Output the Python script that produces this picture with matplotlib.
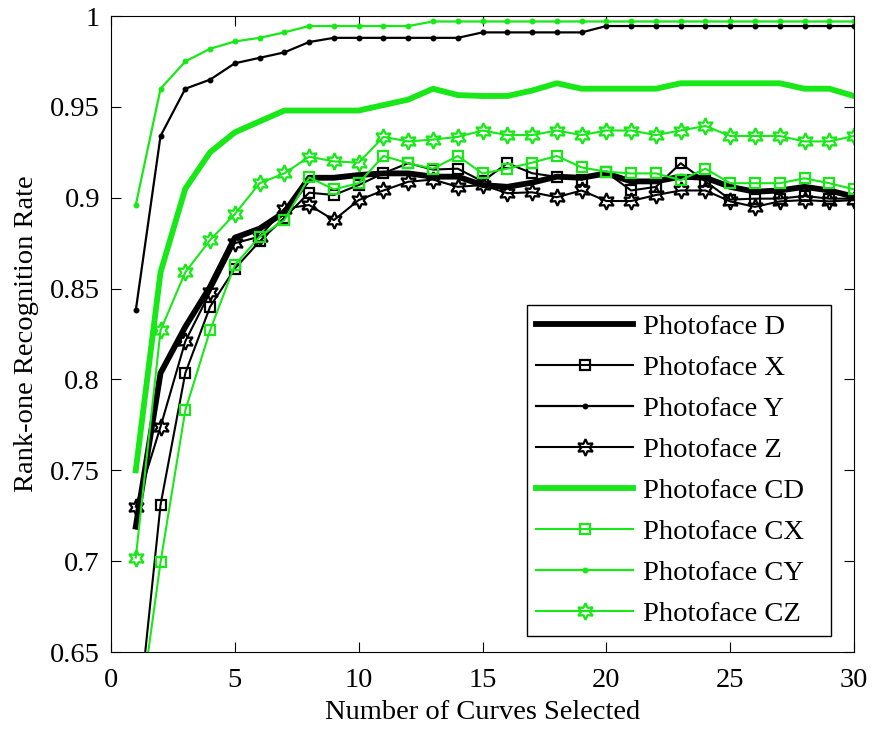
import numpy as np
import matplotlib
matplotlib.use('Agg')
from matplotlib import pyplot as plt

# recognition rates, curves 1..30
curves = np.arange(1, 31)

face_d = [0.719, 0.8035, 0.829, 0.851, 0.878, 0.883, 0.892, 0.911, 0.911, 0.9125,
          0.9134, 0.9134, 0.9116, 0.9116, 0.907, 0.906, 0.9083, 0.9116, 0.911, 0.9134,
          0.909, 0.909, 0.9116, 0.911, 0.906, 0.9033, 0.904, 0.906, 0.904, 0.9006]
face_x = [0.60, 0.731, 0.8035, 0.840, 0.861, 0.876, 0.889, 0.9028, 0.9015, 0.907,
          0.9135, 0.919, 0.9155, 0.916, 0.909, 0.919, 0.9135, 0.9115, 0.910, 0.914,
          0.904, 0.906, 0.919, 0.909, 0.899, 0.8995, 0.8995, 0.901, 0.8995, 0.8995]
face_y = [0.838, 0.934, 0.960, 0.965, 0.974, 0.977, 0.980, 0.9857, 0.988, 0.988,
          0.988, 0.988, 0.988, 0.988, 0.991, 0.991, 0.991, 0.991, 0.991, 0.9945,
          0.9945, 0.9945, 0.9945, 0.9945, 0.9945, 0.9945, 0.9945, 0.9945, 0.9945, 0.9945]
face_z = [0.730, 0.774, 0.821, 0.848, 0.875, 0.8786, 0.894, 0.896, 0.8877, 0.8987,
          0.904, 0.9088, 0.910, 0.906, 0.907, 0.9025, 0.903, 0.9003, 0.904, 0.8982,
          0.8982, 0.9015, 0.904, 0.904, 0.898, 0.895, 0.898, 0.8987, 0.898, 0.8987]
face_cd = [0.750, 0.859, 0.905, 0.925, 0.936, 0.942, 0.948, 0.948, 0.948, 0.948,
           0.951, 0.954, 0.960, 0.9565, 0.956, 0.956, 0.959, 0.963, 0.960, 0.960,
           0.960, 0.960, 0.963, 0.963, 0.963, 0.963, 0.963, 0.960, 0.960, 0.956]
face_cx = [0.60, 0.6995, 0.783, 0.827, 0.863, 0.8786, 0.8877, 0.9112, 0.9046, 0.908,
           0.923, 0.919, 0.916, 0.923, 0.9134, 0.916, 0.9193, 0.923, 0.9167, 0.9143,
           0.9134, 0.9134, 0.9097, 0.916, 0.908, 0.908, 0.908, 0.9107, 0.908, 0.9046]
face_cy = [0.896, 0.960, 0.975, 0.982, 0.986, 0.988, 0.991, 0.9945, 0.9945, 0.9945,
           0.9945, 0.9945, 0.997, 0.997, 0.997, 0.997, 0.997, 0.997, 0.997, 0.997,
           0.997, 0.997, 0.997, 0.997, 0.997, 0.997, 0.997, 0.997, 0.997, 0.997]
face_cz = [0.702, 0.827, 0.859, 0.8767, 0.891, 0.908, 0.9134, 0.9226, 0.920, 0.9193,
           0.9335, 0.931, 0.932, 0.9335, 0.937, 0.9345, 0.9345, 0.937, 0.9345, 0.937,
           0.937, 0.9345, 0.937, 0.9395, 0.934, 0.934, 0.934, 0.931, 0.931, 0.934]

labels = ['Photoface D', 'Photoface X', 'Photoface Y', 'Photoface Z',
          'Photoface CD', 'Photoface CX', 'Photoface CY', 'Photoface CZ']
yticks = [0.65, 0.7, 0.75, 0.8, 0.85, 0.9, 0.95, 1]
ytick_labels = ['0.65', '0.7', '0.75', '0.8', '0.85', '0.9', '0.95', '1']
xticks = [0, 5, 10, 15, 20, 25, 30]

plt.rcParams['font.family'] = ['Liberation Serif', 'DejaVu Serif']
plt.rcParams['font.size'] = 20.5

green = '#18e818'
hexagram = (6, 1, 0)

fig = plt.figure(figsize=(8.72, 7.29), dpi=100)
ax = fig.add_axes([0.1273, 0.1056, 0.8521, 0.8724])

series = [face_d, face_x, face_y, face_z, face_cd, face_cx, face_cy, face_cz]
for k, (vals, lab) in enumerate(zip(series, labels)):
    col = 'black' if k < 4 else green
    kind = k % 4
    if kind == 0:
        ax.plot(curves, vals, color=col, lw=4.2, label=lab)
    elif kind == 1:
        ax.plot(curves, vals, color=col, lw=1.5, marker='s', ms=7,
                mfc='none', mew=1.6, label=lab)
    elif kind == 2:
        ax.plot(curves, vals, color=col, lw=1.6, marker='.', ms=6.5, label=lab)
    else:
        ax.plot(curves, vals, color=col, lw=1.5, marker=hexagram, ms=12,
                mfc='none', mew=1.6, label=lab)

ax.set_xlim(0, 30)
ax.set_ylim(0.65, 1)
ax.set_xticks(xticks)
ax.set_yticks(yticks)
ax.set_yticklabels(ytick_labels)
ax.tick_params(direction='in', length=7, width=0.8, top=True, right=True)
ax.tick_params(axis='x', pad=11.5)
ax.tick_params(axis='y', pad=8)
for sp in ax.spines.values():
    sp.set_linewidth(0.8)

ax.set_xlabel('Number of Curves Selected', labelpad=5)
ax.set_ylabel('Rank-one Recognition Rate', labelpad=8)

# legend box placed where the reference has it, extra room on the right
leg = ax.legend(loc='lower left', bbox_to_anchor=(0.560, 0.025, 0.409, 0.5),
                mode='expand', borderaxespad=0,
                fancybox=False, edgecolor='black', framealpha=1,
                handlelength=3.4, labelspacing=0.53, handletextpad=0.35,
                borderpad=0.32)
leg.get_frame().set_linewidth(1.0)

plt.savefig('out.png', dpi=100)
